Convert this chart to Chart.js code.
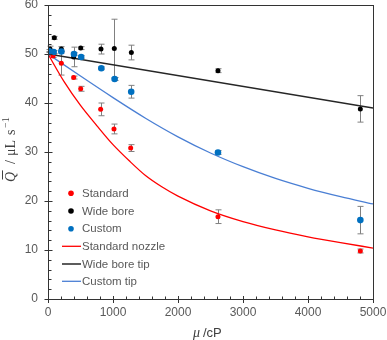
<!DOCTYPE html>
<html><head><meta charset="utf-8">
<script src="https://cdn.jsdelivr.net/npm/chart.js@4.4.1/dist/chart.umd.min.js"></script>
<style>html,body{margin:0;padding:0;background:#fff}#wrap{width:387px;height:340px;position:relative}</style>
</head><body><div id="wrap"><canvas id="c" width="387" height="340"></canvas></div>
<script>
const xTicks=[0,1000,2000,3000,4000,5000];
const yTicks=[0,10,20,30,40,50,60];
const stdX=[15,77,205,395,503,810,1015,1272,2615,4805];
const stdY=[50.2,49.6,48.1,45.2,42.9,38.7,34.7,30.8,16.8,9.8];
const stdErr=[0.3,0.3,2.4,0.3,0.5,1.3,1.0,0.7,1.4,0.4];
const wideX=[31,97,205,395,503,815,1020,1282,2615,4805];
const wideY=[51.0,53.3,51.0,49.4,51.2,51.0,51.1,50.3,46.6,38.8];
const wideErr=[0.6,0.3,0.5,2.0,0.3,1.0,6.0,1.5,0.4,2.7];
const custX=[15,87,205,400,510,820,1025,1280,2615,4805];
const custY=[50.6,50.4,50.5,50.0,49.4,47.1,44.9,42.3,29.9,16.1];
const custErr=[0.3,0.3,0.3,0.3,0.3,0.3,0.3,1.3,0.4,2.8];
const stdFitX=[0,250,500,750,1000,1250,1500,1750,2000,2500,3000,3500,4000,4500,5000];
const stdFit=[50,44.3,39.5,35.4,31.5,28.2,25.2,22.9,21.0,18.0,15.8,14.1,12.7,11.5,10.4];
const custFitX=[0,500,1000,1500,2000,2500,3000,3500,4000,4500,5000];
const custFit=[50,45.5,41.1,36.9,33.1,29.8,27.0,24.6,22.6,20.9,19.4];
const wideFitX=[0,5000];
const wideFit=[50,39.0];

const pts=(xs,ys)=>xs.map((v,i)=>({x:v,y:ys[i]}));
const SANS='"Liberation Sans", Arial, sans-serif';
const SERIF='"Liberation Serif", "Times New Roman", serif';
const TXT='#595959';

const deco={id:'deco',
 beforeDatasetsDraw(chart){
  const {ctx,scales:{x,y}}=chart;
  ctx.save();ctx.strokeStyle='#808080';ctx.lineWidth=1;
  chart.data.datasets.forEach(ds=>{
   if(!ds.err)return;
   ds.data.forEach((p,i)=>{
    const e=ds.err[i];
    const px=Math.round(x.getPixelForValue(p.x))+0.5;
    const y1=y.getPixelForValue(p.y+e),y2=y.getPixelForValue(p.y-e);
    ctx.beginPath();
    ctx.moveTo(px,y1);ctx.lineTo(px,y2);
    ctx.moveTo(px-3,y1);ctx.lineTo(px+3,y1);
    ctx.moveTo(px-3,y2);ctx.lineTo(px+3,y2);
    ctx.stroke();
   });
  });
  ctx.restore();
 },
 afterDraw(chart){
  const {ctx,chartArea:a,scales:{x,y}}=chart;
  ctx.save();
  ctx.strokeStyle='#333';ctx.lineWidth=1;
  ctx.strokeRect(Math.round(a.left)+0.5,Math.round(a.top)+0.5,Math.round(a.right-a.left),Math.round(a.bottom-a.top));
  ctx.beginPath();
  const L=Math.round(a.left)+0.5,B=Math.round(a.bottom)+0.5;
  for(let v=0;v<=60;v+=2){
   const py=Math.round(y.getPixelForValue(v))+0.5;
   if(v%10===0){ctx.moveTo(L-4,py);ctx.lineTo(L+4,py);}
   else{ctx.moveTo(L,py);ctx.lineTo(L+3,py);}
  }
  for(let v=0;v<=5000;v+=200){
   const px=Math.round(x.getPixelForValue(v))+0.5;
   if(v%1000===0){ctx.moveTo(px,B-3.5);ctx.lineTo(px,B+3.5);}
   else{ctx.moveTo(px,B);ctx.lineTo(px,B-3);}
  }
  ctx.stroke();
  const ly=[193.3,211,228.7,246.3,264,281.3];
  ctx.font='11.5px '+SANS;ctx.textBaseline='middle';ctx.textAlign='left';
  chart.data.datasets.forEach((ds,i)=>{
   const yy=ly[i];
   if(ds.showLine){
    ctx.strokeStyle=ds.borderColor;ctx.lineWidth=ds.borderWidth;
    ctx.beginPath();ctx.moveTo(62,yy);ctx.lineTo(81,yy);ctx.stroke();
   }else{
    ctx.fillStyle=ds.backgroundColor;ctx.beginPath();ctx.arc(71,yy,2.8,0,Math.PI*2);ctx.fill();
   }
   ctx.fillStyle=TXT;ctx.fillText(ds.label,82,yy+0.5);
  });
  ctx.fillStyle='#404040';ctx.textBaseline='alphabetic';
  ctx.font='italic 14px '+SERIF;ctx.fillText('μ',193,337);
  ctx.font='13px '+SANS;ctx.fillText('/cP',203,337);
  ctx.translate(15,182);ctx.rotate(-Math.PI/2);
  ctx.font='italic 14px '+SERIF;ctx.fillText('Q',0,0);
  const qw=ctx.measureText('Q').width;
  ctx.strokeStyle='#404040';ctx.lineWidth=1;ctx.beginPath();ctx.moveTo(2.5,-12.5);ctx.lineTo(qw+1.5,-12.5);ctx.stroke();
  ctx.font='14px '+SERIF;
  ctx.fillText('/',18,0);
  ctx.fillText('μL',26,0);
  ctx.fillText('s',47,0);
  ctx.font='10px '+SERIF;
  ctx.fillText('−1',54,-6);
  ctx.restore();
 }
};

new Chart(document.getElementById('c'),{
 type:'scatter',
 data:{datasets:[
  {label:'Standard',data:pts(stdX,stdY),err:stdErr,backgroundColor:'#ff0000',borderColor:'#ff0000',pointRadius:2.5,pointBorderWidth:0,order:3},
  {label:'Wide bore',data:pts(wideX,wideY),err:wideErr,backgroundColor:'#000000',borderColor:'#000000',pointRadius:2.5,pointBorderWidth:0,order:2},
  {label:'Custom',data:pts(custX,custY),err:custErr,backgroundColor:'#0070c0',borderColor:'#0070c0',pointRadius:3.3,pointBorderWidth:0,order:1},
  {label:'Standard nozzle',data:pts(stdFitX,stdFit),showLine:true,pointRadius:0,borderColor:'#ff0000',borderWidth:1.3,cubicInterpolationMode:'monotone',order:6},
  {label:'Wide bore tip',data:pts(wideFitX,wideFit),showLine:true,pointRadius:0,borderColor:'#262626',borderWidth:1.5,order:5},
  {label:'Custom tip',data:pts(custFitX,custFit),showLine:true,pointRadius:0,borderColor:'#4a7fd4',borderWidth:1.3,cubicInterpolationMode:'monotone',order:4}
 ]},
 options:{
  responsive:false,animation:false,
  layout:{padding:{left:0,right:14,top:5,bottom:0}},
  plugins:{legend:{display:false},tooltip:{enabled:false}},
  scales:{
   x:{type:'linear',min:0,max:5000,
    afterBuildTicks(s){s.ticks=xTicks.map(v=>({value:v}));},
    afterFit(s){s.height=41;s.paddingLeft=0;s.paddingRight=0;},
    grid:{display:false,drawTicks:false},border:{display:false},
    ticks:{padding:6,color:TXT,font:{family:SANS,size:12},maxRotation:0,callback:v=>String(v)}},
   y:{type:'linear',min:0,max:60,
    afterBuildTicks(s){s.ticks=yTicks.map(v=>({value:v}));},
    afterFit(s){s.width=48;s.paddingTop=0;s.paddingBottom=0;},
    grid:{display:false,drawTicks:false},border:{display:false},
    ticks:{padding:10,color:TXT,font:{family:SANS,size:12},callback:v=>String(v)}}
  }
 },
 plugins:[deco]
});
</script></body></html>
